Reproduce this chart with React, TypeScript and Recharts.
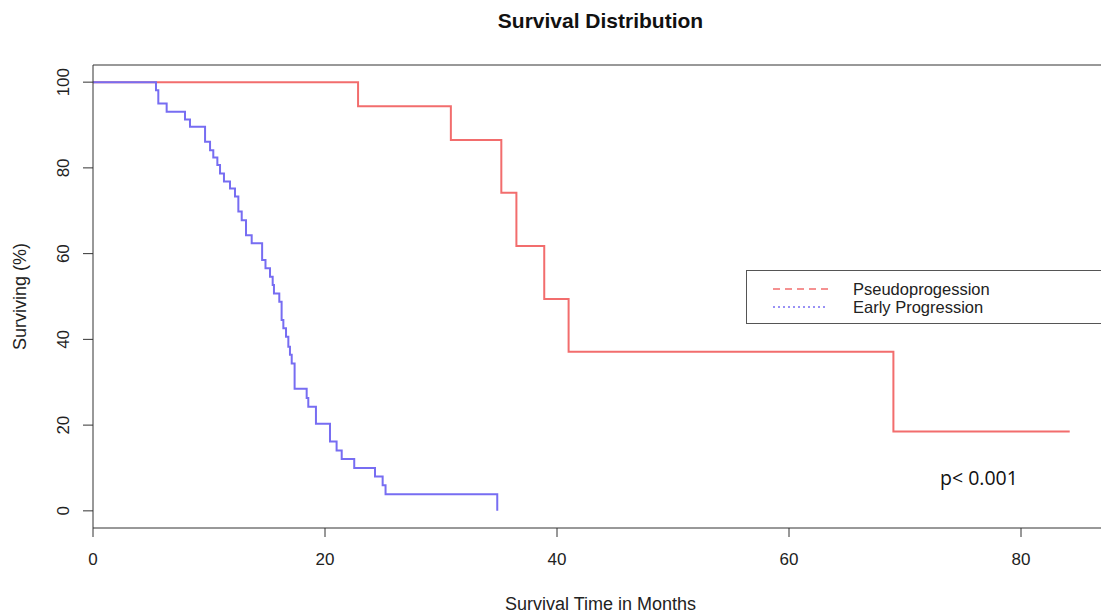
import React from "react";
import { LineChart, Line, XAxis, YAxis, ReferenceLine, Legend } from "recharts";

const chartTitle = "Survival Distribution";
const xTitle = "Survival Time in Months";
const yTitle = "Surviving (%)";
const pText = "p< 0.001";

const seriesNames = ["Pseudoprogession", "Early Progression"];

const redTimes = [0, 22.85, 30.85, 35.2, 36.5, 38.9, 41.0, 69.0, 84.2];
const redSurv = [100, 94.4, 86.5, 74.2, 61.8, 49.4, 37.1, 18.5, 18.5];

const blueTimes = [
  0, 5.43, 5.63, 6.35, 7.93, 8.36, 9.66, 10.09, 10.37, 10.72, 10.95, 11.29, 11.81, 12.24,
  12.53, 12.82, 13.19, 13.68, 14.58, 14.87, 15.26, 15.49, 15.6, 16.06, 16.26, 16.41, 16.64,
  16.84, 16.98, 17.13, 17.38, 18.42, 18.56, 19.22, 20.43, 21.0, 21.44, 22.52, 24.31, 24.97,
  25.22, 34.85,
];
const blueSurv = [
  100, 98.1, 95.0, 93.1, 91.3, 89.6, 86.1, 84.1, 82.4, 80.7, 78.7, 76.8, 75.2, 73.3, 69.8,
  67.8, 64.3, 62.4, 58.5, 56.6, 54.6, 52.7, 50.7, 48.8, 44.5, 42.6, 40.6, 38.3, 36.4, 34.4,
  28.5, 26.3, 24.3, 20.3, 16.2, 14.1, 12.1, 10.0, 8.0, 6.0, 3.9, 0,
];

const xTicks = [0, 20, 40, 60, 80];
const yTicks = [0, 20, 40, 60, 80, 100];

const redData = redTimes.map((t, i) => ({ t, s: redSurv[i] }));
const blueData = blueTimes.map((t, i) => ({ t, s: blueSurv[i] }));

const RED = "#F26D6D";
const BLUE = "#776DF2";
const FONT = "'Liberation Sans', Arial, Helvetica, sans-serif";

const YTick = (props: any) => {
  const { x, y, payload } = props;
  return (
    <text
      x={x}
      y={y}
      transform={`rotate(-90 ${x} ${y})`}
      textAnchor="middle"
      fontSize={17}
      fill="#222"
      fontFamily={FONT}
    >
      {payload.value}
    </text>
  );
};

const YLabel = (props: any) => {
  const vb = props.viewBox || { x: 0, y: 65, width: 93, height: 463 };
  const cx = 20;
  const cy = vb.y + vb.height / 2;
  return (
    <text
      x={cx}
      y={cy}
      transform={`rotate(-90 ${cx} ${cy})`}
      textAnchor="middle"
      dominantBaseline="central"
      fontSize={18}
      fill="#222"
      fontFamily={FONT}
    >
      {yTitle}
    </text>
  );
};

const XLabel = (props: any) => {
  const vb = props.viewBox || { x: 93, y: 528, width: 1015, height: 40 };
  const cx = vb.x + vb.width / 2;
  return (
    <text
      x={cx}
      y={610}
      textAnchor="middle"
      fontSize={18}
      fill="#222"
      fontFamily={FONT}
    >
      {xTitle}
    </text>
  );
};

const LegendBox = () => (
  <div
    style={{
      width: 360,
      height: 54,
      border: "1.5px solid #555",
      background: "#fff",
      boxSizing: "border-box",
    }}
  >
    <svg width={360} height={52} style={{ display: "block" }}>
      <line x1={26} x2={82} y1={18} y2={18} stroke={RED} strokeWidth={1.6} strokeDasharray="7 5" />
      <text x={106} y={18} dominantBaseline="central" fontSize={16.5} fill="#222" fontFamily={FONT}>
        {seriesNames[0]}
      </text>
      <line x1={26} x2={78} y1={36} y2={36} stroke={BLUE} strokeWidth={1.6} strokeDasharray="2 3" />
      <text x={106} y={36} dominantBaseline="central" fontSize={16.5} fill="#222" fontFamily={FONT}>
        {seriesNames[1]}
      </text>
    </svg>
  </div>
);

export default function App() {
  return (
    <div
      style={{
        position: "absolute",
        left: 0,
        top: 0,
        width: 1101,
        height: 615,
        overflow: "hidden",
        background: "#fff",
        fontFamily: FONT,
      }}
    >
      <div
        style={{
          position: "absolute",
          left: 93,
          width: 1015,
          top: 9,
          textAlign: "center",
          fontWeight: "bold",
          fontSize: 21,
          color: "#111",
          fontFamily: FONT,
        }}
      >
        {chartTitle}
      </div>
      <LineChart width={1115} height={615} margin={{ top: 65, right: 7, bottom: 47, left: 0 }}>
        <XAxis
          dataKey="t"
          type="number"
          domain={[0, 87.5]}
          ticks={xTicks}
          allowDataOverflow
          height={40}
          tickSize={9}
          tickMargin={16}
          stroke="#333"
          tick={{ fontSize: 17, fill: "#222", fontFamily: FONT }}
          label={XLabel}
        />
        <YAxis
          type="number"
          domain={[-4, 104]}
          ticks={yTicks}
          allowDataOverflow
          width={93}
          tickSize={10}
          tickMargin={14}
          stroke="#333"
          tick={YTick}
          label={YLabel}
        />
        <ReferenceLine y={104} stroke="#333" strokeWidth={1} />
        <Line
          data={redData}
          dataKey="s"
          name={seriesNames[0]}
          type="stepAfter"
          stroke={RED}
          strokeWidth={2}
          dot={false}
          activeDot={false}
          isAnimationActive={false}
        />
        <Line
          data={blueData}
          dataKey="s"
          name={seriesNames[1]}
          type="stepAfter"
          stroke={BLUE}
          strokeWidth={2}
          dot={false}
          activeDot={false}
          isAnimationActive={false}
        />
        <Legend
          layout="horizontal"
          verticalAlign="middle"
          align="center"
          content={LegendBox}
          wrapperStyle={{ position: "absolute", left: 746, top: 270, width: 360, height: 54 }}
        />
      </LineChart>
      <div
        style={{
          position: "absolute",
          left: 940,
          top: 464,
          fontSize: 19.5,
          color: "#111",
          fontFamily: "'Open Sans', 'Noto Sans', sans-serif",
        }}
      >
        {pText}
      </div>
    </div>
  );
}
